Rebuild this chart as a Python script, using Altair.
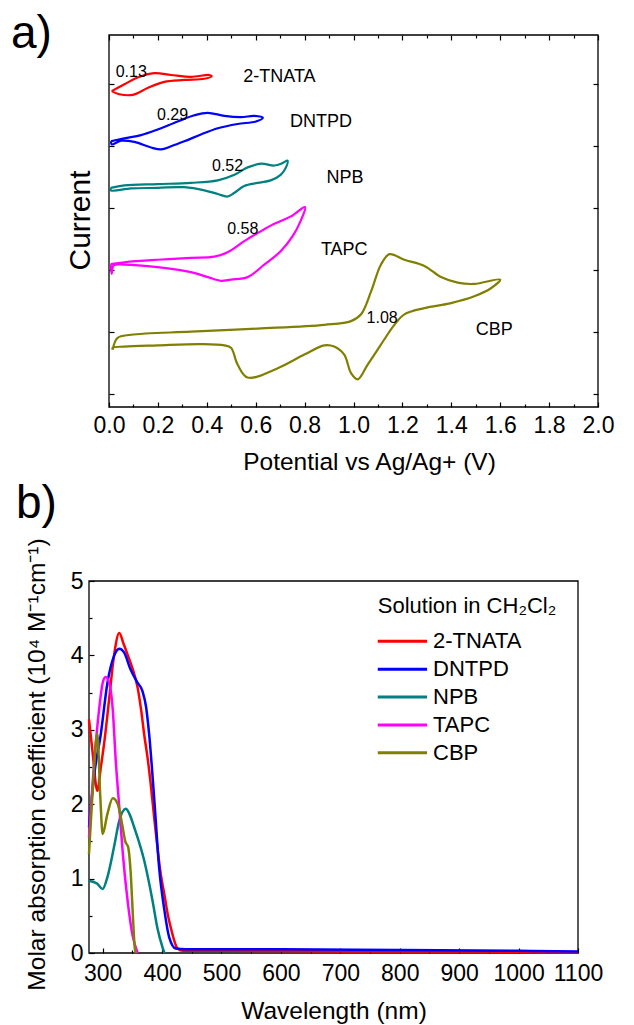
import altair as alt
import pandas as pd

FONT = "Liberation Sans"

# ---------------- panel a: cyclic voltammograms ----------------
CV_NAMES = ["2-TNATA", "DNTPD", "NPB", "TAPC", "CBP"]
COLORS = ["#ff0000", "#0000ff", "#008080", "#ff00ff", "#808000"]

TNATA_V = [0.011, 0.063, 0.117, 0.185, 0.254, 0.335, 0.410, 0.420, 0.390, 0.308, 0.226, 0.158, 0.097, 0.042, 0.011]
TNATA_I = [4.89, 5.00, 5.11, 5.18, 5.15, 5.12, 5.15, 5.13, 5.09, 5.07, 5.04, 4.94, 4.83, 4.84, 4.89]

DNTPD_V = [0.008, 0.063, 0.131, 0.199, 0.281, 0.349, 0.404, 0.472, 0.540, 0.594, 0.629, 0.601, 0.526, 0.445,
           0.376, 0.308, 0.254, 0.213, 0.172, 0.104, 0.049, 0.011, 0.008]
DNTPD_I = [4.08, 4.13, 4.18, 4.27, 4.40, 4.50, 4.54, 4.49, 4.47, 4.49, 4.46, 4.40, 4.36, 4.29,
           4.19, 4.08, 4.00, 3.95, 3.98, 4.07, 4.09, 4.03, 4.08]

NPB_V = [0.007, 0.063, 0.199, 0.335, 0.445, 0.513, 0.567, 0.622, 0.676, 0.710, 0.730, 0.724, 0.702, 0.661,
         0.608, 0.553, 0.513, 0.485, 0.445, 0.390, 0.308, 0.199, 0.090, 0.008, 0.007]
NPB_I = [3.33, 3.37, 3.39, 3.41, 3.45, 3.54, 3.66, 3.72, 3.69, 3.73, 3.77, 3.66, 3.54, 3.45,
         3.41, 3.36, 3.25, 3.19, 3.23, 3.29, 3.34, 3.33, 3.32, 3.29, 3.33]

TAPC_V = [0.007, 0.063, 0.199, 0.335, 0.431, 0.485, 0.553, 0.608, 0.676, 0.744, 0.802, 0.783, 0.751, 0.703,
          0.635, 0.567, 0.499, 0.458, 0.404, 0.335, 0.199, 0.063, 0.019, 0.011, 0.007]
TAPC_I = [2.10, 2.13, 2.17, 2.20, 2.22, 2.29, 2.47, 2.60, 2.75, 2.87, 3.02, 2.79, 2.55, 2.31,
          2.09, 1.89, 1.85, 1.83, 1.89, 1.97, 2.05, 2.09, 2.08, 1.94, 2.10]

CBP_V = [0.015, 0.035, 0.090, 0.335, 0.608, 0.881, 0.990, 1.031, 1.072, 1.112, 1.147, 1.208, 1.290, 1.358,
         1.426, 1.494, 1.600, 1.562, 1.494, 1.399, 1.290, 1.208, 1.167, 1.112, 1.058, 1.017, 0.990, 0.962,
         0.921, 0.881, 0.799, 0.690, 0.567, 0.526, 0.499, 0.472, 0.376, 0.199, 0.063, 0.015, 0.015]
CBP_I = [0.72, 0.91, 0.96, 1.01, 1.06, 1.12, 1.18, 1.29, 1.66, 2.09, 2.26, 2.17, 2.07, 1.89,
         1.80, 1.78, 1.85, 1.71, 1.58, 1.47, 1.39, 1.29, 1.12, 0.80, 0.48, 0.24, 0.34, 0.64,
         0.77, 0.79, 0.64, 0.42, 0.27, 0.48, 0.75, 0.79, 0.81, 0.79, 0.77, 0.75, 0.72]

ONSET_TEXT = ["0.13", "0.29", "0.52", "0.58", "1.08"]
ONSET_X = [0.091, 0.26, 0.485, 0.547, 1.117]
ONSET_Y = [5.20, 4.50, 3.68, 2.67, 1.23]

NAME_X = [0.697, 0.867, 0.965, 0.962, 1.576]
NAME_Y = [5.12, 4.39, 3.49, 2.32, 1.04]

A_XDOM = [0.0, 2.0]
A_YDOM = [-0.205, 5.795]
A_MAJOR = [0.0, 0.2, 0.4, 0.6, 0.8, 1.0, 1.2, 1.4, 1.6, 1.8, 2.0]
A_MINOR = [0.1, 0.3, 0.5, 0.7, 0.9, 1.1, 1.3, 1.5, 1.7, 1.9]
A_YTICKS = [0, 1, 2, 3, 4, 5]

# ---------------- panel b: absorption spectra ----------------
TNATA_WL = [277, 283, 291, 297, 303, 311, 319, 328, 335, 342, 350, 359, 365, 370, 376, 381, 387, 393, 398, 404,
            410, 415, 420, 426, 435, 500, 700, 900, 1100]
TNATA_A = [3.14, 2.70, 2.18, 2.50, 2.85, 3.42, 3.99, 4.30, 4.16, 4.01, 3.83, 3.56, 3.25, 2.93, 2.60, 2.26, 1.80,
           1.36, 1.05, 0.78, 0.50, 0.33, 0.18, 0.06, 0.03, 0.03, 0.02, 0.02, 0.01]

DNTPD_WL = [277, 286, 297, 308, 319, 328, 336, 347, 358, 367, 373, 378, 387, 395, 404, 412, 423, 440, 600, 800,
            1000, 1100]
DNTPD_A = [1.69, 2.41, 2.95, 3.63, 3.99, 4.09, 4.04, 3.81, 3.64, 3.52, 3.31, 2.96, 2.05, 1.15, 0.57, 0.21, 0.06,
           0.05, 0.05, 0.04, 0.03, 0.02]

NPB_WL = [277, 291, 300, 308, 319, 328, 339, 345, 353, 370, 384, 392, 401, 404]
NPB_A = [0.97, 0.93, 0.86, 1.02, 1.42, 1.78, 1.94, 1.87, 1.69, 1.24, 0.70, 0.34, 0.07, 0.0]

TAPC_WL = [277, 286, 294, 300, 305, 311, 317, 322, 328, 334, 342, 350, 359]
TAPC_A = [1.55, 2.59, 3.27, 3.63, 3.71, 3.63, 3.27, 2.59, 1.96, 1.33, 0.70, 0.25, 0.0]

CBP_WL = [277, 284, 291, 296, 300, 308, 317, 325, 333, 338, 343, 347, 351, 354, 356]
CBP_A = [1.33, 2.30, 2.95, 2.10, 1.60, 1.87, 2.08, 2.01, 1.72, 1.50, 1.42, 1.10, 0.48, 0.07, 0.0]

B_XDOM = [277, 1100]
B_YDOM = [0, 5]
B_MAJOR = [300, 400, 500, 600, 700, 800, 900, 1000, 1100]
B_MINOR = [350, 450, 550, 650, 750, 850, 950, 1050]
B_YMAJOR = [0, 1, 2, 3, 4, 5]
B_YMINOR = [0.5, 1.5, 2.5, 3.5, 4.5]

LEGEND_TITLE = "Solution in CH\u2082Cl\u2082"
# legend placement (in data units of panel b)
LEG_X0, LEG_X1, LEG_TX = 763, 846, 856
LEG_Y0, LEG_DY, LEG_TY = 4.19, 0.375, 4.66

# ---------------- build tables ----------------
cv_rows = []
for name, vs, cs in zip(CV_NAMES, [TNATA_V, DNTPD_V, NPB_V, TAPC_V, CBP_V],
                        [TNATA_I, DNTPD_I, NPB_I, TAPC_I, CBP_I]):
    for k, (v, c) in enumerate(zip(vs, cs)):
        cv_rows.append({"compound": name, "idx": k, "potential": v, "current": c})
cv_df = pd.DataFrame(cv_rows)

ab_rows = []
for name, ws, avals in zip(CV_NAMES, [TNATA_WL, DNTPD_WL, NPB_WL, TAPC_WL, CBP_WL],
                           [TNATA_A, DNTPD_A, NPB_A, TAPC_A, CBP_A]):
    for k, (w, a) in enumerate(zip(ws, avals)):
        ab_rows.append({"compound": name, "idx": k, "wl": w, "abs": a})
ab_df = pd.DataFrame(ab_rows)

color_scale = alt.Scale(domain=CV_NAMES, range=COLORS)

# ---------------- panel a ----------------
WA, HA = 509, 372
XA = alt.Scale(domain=A_XDOM, range=[20, WA], nice=False, zero=False)
YA = alt.Scale(domain=A_YDOM, nice=False, zero=False)

frame_a_df = pd.DataFrame({"x0": [A_XDOM[0]], "x1": [A_XDOM[1]], "y0": [A_YDOM[0]], "y1": [A_YDOM[1]]})
frame_a = alt.Chart(frame_a_df).mark_rect(fillOpacity=0, stroke="black", strokeWidth=1.3).encode(
    x=alt.X("x0:Q", scale=XA, axis=alt.Axis(
        orient="bottom", values=A_MAJOR, format=".1f", tickSize=5, offset=-5, domain=False, grid=False,
        labelPadding=7, labelFontSize=23, labelFlush=False, labelOverlap=False,
        title="Potential vs Ag/Ag+ (V)", titleFontSize=24.5, titleX=280, titleY=67,
        titleBaseline="alphabetic", titleAlign="center")),
    x2="x1:Q",
    y=alt.Y("y0:Q", scale=YA, axis=alt.Axis(
        orient="left", values=A_YTICKS, tickSize=5, offset=-25, domain=False, grid=False, labels=False,
        title="Current", titleFontSize=30, titleAngle=270, titleX=-25, titleY=185,
        titleAlign="center", titleBaseline="alphabetic")),
    y2="y1:Q",
)

curves_a = alt.Chart(cv_df).mark_line(strokeWidth=2.2, interpolate="catmull-rom").encode(
    x=alt.X("potential:Q", scale=XA, axis=alt.Axis(
        orient="bottom", values=A_MINOR, tickSize=3, offset=-3, domain=False, grid=False,
        labels=False, title=None)),
    y=alt.Y("current:Q", scale=YA, axis=alt.Axis(
        orient="right", values=A_YTICKS, tickSize=5, offset=-5, domain=False, grid=False,
        labels=False, title=None)),
    color=alt.Color("compound:N", scale=color_scale, legend=None),
    order="idx:Q",
)

onset_df = pd.DataFrame({"t": ONSET_TEXT, "x": ONSET_X, "y": ONSET_Y})
onsets = alt.Chart(onset_df).mark_text(fontSize=16, color="black").encode(
    x=alt.X("x:Q", scale=XA, axis=alt.Axis(
        orient="top", values=A_MAJOR, tickSize=5, offset=-5, domain=False, grid=False,
        labels=False, title=None)),
    y=alt.Y("y:Q", scale=YA, axis=None),
    text="t:N",
)

names_df = pd.DataFrame({"t": CV_NAMES, "x": NAME_X, "y": NAME_Y})
names = alt.Chart(names_df).mark_text(fontSize=18, color="black").encode(
    x=alt.X("x:Q", scale=XA, axis=alt.Axis(
        orient="top", values=A_MINOR, tickSize=3, offset=-3, domain=False, grid=False,
        labels=False, title=None)),
    y=alt.Y("y:Q", scale=YA, axis=None),
    text="t:N",
)

tag_a = alt.Chart(pd.DataFrame({"t": ["a)"]})).mark_text(
    fontSize=46, align="left", baseline="alphabetic", x=-78, y=13, color="black"
).encode(text="t:N")

panel_a = alt.layer(frame_a, curves_a, onsets, names, tag_a).resolve_axis(
    x="independent", y="independent").properties(width=WA, height=HA)

# ---------------- panel b ----------------
WB, HB = 489, 372
XB = alt.Scale(domain=B_XDOM, nice=False, zero=False)
YB = alt.Scale(domain=B_YDOM, nice=False, zero=False)

frame_b_df = pd.DataFrame({"x0": [B_XDOM[0]], "x1": [B_XDOM[1]], "y0": [B_YDOM[0]], "y1": [B_YDOM[1]]})
frame_b = alt.Chart(frame_b_df).mark_rect(fillOpacity=0, stroke="black", strokeWidth=1.3).encode(
    x=alt.X("x0:Q", scale=XB, axis=alt.Axis(
        orient="bottom", values=B_MAJOR, format="d", tickSize=5, offset=-5, domain=False, grid=False,
        labelPadding=9, labelFontSize=23, labelFlush=False, labelOverlap=False,
        title="Wavelength (nm)", titleFontSize=24.5, titleX=244.5, titleY=70,
        titleBaseline="alphabetic", titleAlign="center")),
    x2="x1:Q",
    y=alt.Y("y0:Q", scale=YB, axis=alt.Axis(
        orient="left", values=B_YMAJOR, format="d", tickSize=5, offset=-5, domain=False, grid=False,
        labelPadding=6, labelFontSize=23, labelFlush=False, labelOverlap=False,
        title="Molar absorption coefficient (10\u2074 M\u207b\u00b9cm\u207b\u00b9)", titleFontSize=24.5,
        titleAngle=270, titleX=-50, titleY=183, titleAlign="center", titleBaseline="alphabetic")),
    y2="y1:Q",
)

curves_b = alt.Chart(ab_df).mark_line(strokeWidth=2.5, interpolate="monotone").encode(
    x=alt.X("wl:Q", scale=XB, axis=alt.Axis(
        orient="bottom", values=B_MINOR, tickSize=3, offset=-3, domain=False, grid=False,
        labels=False, title=None)),
    y=alt.Y("abs:Q", scale=YB, axis=alt.Axis(
        orient="left", values=B_YMINOR, tickSize=3, offset=-3, domain=False, grid=False,
        labels=False, title=None)),
    color=alt.Color("compound:N", scale=color_scale, legend=None),
    order="idx:Q",
)

leg_df = pd.DataFrame({
    "compound": CV_NAMES,
    "x0": [LEG_X0] * len(CV_NAMES),
    "x1": [LEG_X1] * len(CV_NAMES),
    "tx": [LEG_TX] * len(CV_NAMES),
    "y": [LEG_Y0 - LEG_DY * k for k in range(len(CV_NAMES))],
})
leg_lines = alt.Chart(leg_df).mark_rule(strokeWidth=3).encode(
    x=alt.X("x0:Q", scale=XB, axis=None),
    x2="x1:Q",
    y=alt.Y("y:Q", scale=YB, axis=None),
    color=alt.Color("compound:N", scale=color_scale, legend=None),
)
leg_text = alt.Chart(leg_df).mark_text(fontSize=22, align="left", color="black").encode(
    x=alt.X("tx:Q", scale=XB, axis=None),
    y=alt.Y("y:Q", scale=YB, axis=None),
    text="compound:N",
)
leg_title = alt.Chart(pd.DataFrame({"t": [LEGEND_TITLE], "x": [LEG_X0], "y": [LEG_TY]})).mark_text(
    fontSize=22, align="left", color="black").encode(
    x=alt.X("x:Q", scale=XB, axis=None),
    y=alt.Y("y:Q", scale=YB, axis=None),
    text="t:N",
)

tag_b = alt.Chart(pd.DataFrame({"t": ["b)"]})).mark_text(
    fontSize=46, align="left", baseline="alphabetic", x=-73, y=-63, color="black"
).encode(text="t:N")

panel_b = alt.layer(frame_b, curves_b, leg_lines, leg_text, leg_title, tag_b).resolve_axis(
    x="independent", y="independent").properties(width=WB, height=HB)

chart = alt.concat(panel_a, panel_b, columns=1, spacing=6).properties(
    padding={"left": 10, "top": 10, "right": 5, "bottom": 2}
).configure(font=FONT).configure_view(stroke="transparent").configure_axis(
    labelFont=FONT, titleFont=FONT, labelColor="black", tickColor="black", titleColor="black",
    tickWidth=1.2, titleFontWeight="normal"
)

chart.save("out.html", embed_options={"renderer": "svg", "actions": False})
